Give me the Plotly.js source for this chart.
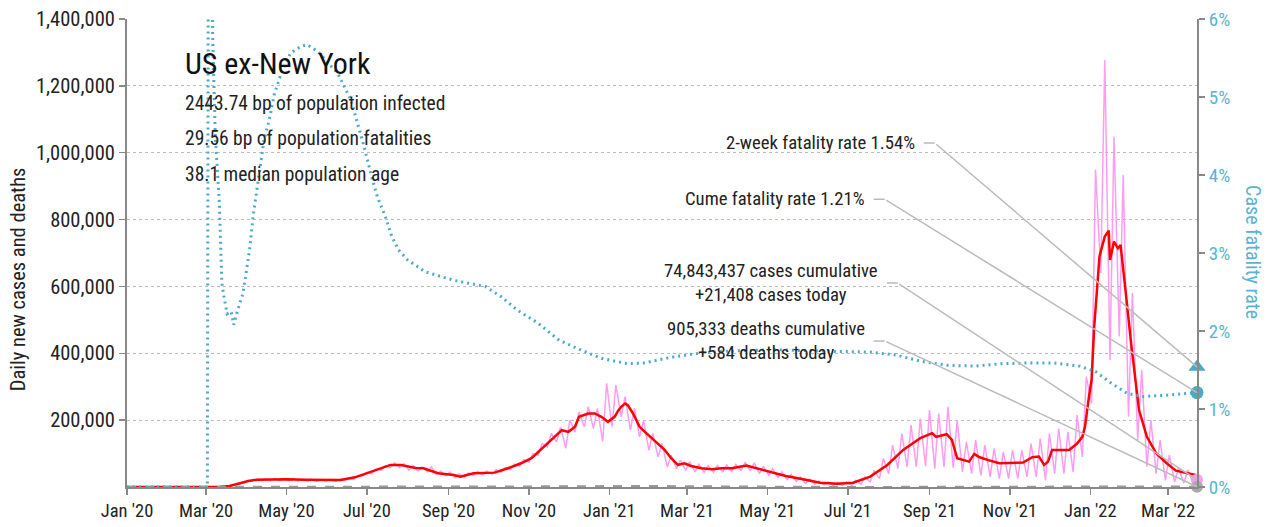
<!DOCTYPE html>
<html><head><meta charset="utf-8">
<script src="https://cdn.plot.ly/plotly-3.0.1.min.js"></script>
<style>html,body{margin:0;padding:0;background:#fff}#chart{width:1270px;height:527px}</style>
</head><body><div id="chart"></div>
<script>
// ---------- DATA ----------
// Daily new cases: weekly low (Sunday) and high (Wednesday) readings, in thousands
const weekStart = '2020-01-05';
const pinkLo = [0,0,0,0,0,0,0,0,0.01,0.1,1.5,6,12,18,20,19,19,19,18,18,17,17,17,19,23,33,40,50,58,58,
  50,48,46,38,33,28,30,34,36,38,44,52,62,75,95,120,135,116,165,180,175,136,180,210,170,150,110,90,60,55,
  50,45,44,44,45,46,50,48,40,35,28,22,17,10,8,6,5,4,4,8,15,25,40,55,60,60,62,55,60,58,
  45,40,35,30,25,25,25,30,30,20,40,40,45,90,250,640,380,450,210,140,61,40,20,15,12,12];
const pinkHi = [0,0,0,0,0,0,0,0,0.03,0.3,3.5,10,17,23,25,25,25,25,24,23,22,22,23,25,32,44,54,64,72,70,
  64,60,60,48,45,40,42,46,48,52,58,68,82,100,130,160,180,200,225,240,235,310,305,270,235,200,160,130,95,80,
  75,68,64,64,66,68,74,72,62,55,46,38,30,24,18,15,14,15,20,30,50,85,125,160,185,205,230,220,240,200,
  135,140,125,115,105,110,110,130,145,160,175,165,215,330,950,1277,1048,933,580,350,200,140,96,57,51,21.408];

// 7-day average of new cases, in thousands
const avgDates = ['2020-01-01','2020-03-01','2020-03-12','2020-03-19','2020-03-26','2020-04-02','2020-04-09','2020-04-16','2020-05-01','2020-05-15',
  '2020-06-01','2020-06-11','2020-06-22','2020-07-02','2020-07-12','2020-07-19','2020-07-27','2020-08-07','2020-08-13','2020-08-24',
  '2020-09-05','2020-09-10','2020-09-20','2020-10-06','2020-10-16','2020-10-26','2020-11-03','2020-11-10','2020-11-18','2020-11-26',
  '2020-12-01','2020-12-06','2020-12-09','2020-12-16','2020-12-21','2020-12-26','2020-12-31','2021-01-05','2021-01-08','2021-01-10',
  '2021-01-13','2021-01-15','2021-01-19','2021-01-24','2021-01-28','2021-02-04','2021-02-12','2021-02-17','2021-02-22','2021-02-27',
  '2021-03-04','2021-03-12','2021-03-20','2021-03-27','2021-04-04','2021-04-15','2021-05-03','2021-05-15','2021-05-28','2021-06-10',
  '2021-06-23','2021-07-05','2021-07-18','2021-07-31','2021-08-12','2021-08-25','2021-09-03','2021-09-06','2021-09-14','2021-09-18',
  '2021-09-22','2021-10-01','2021-10-05','2021-10-09','2021-10-17','2021-10-24','2021-11-11','2021-11-18','2021-11-23','2021-11-27',
  '2021-11-30','2021-12-03','2021-12-16','2021-12-22','2021-12-26','2021-12-28','2021-12-31','2022-01-02','2022-01-04','2022-01-08',
  '2022-01-12','2022-01-15','2022-01-16','2022-01-19','2022-01-22','2022-01-24','2022-01-28','2022-02-01','2022-02-07','2022-02-13',
  '2022-02-20','2022-02-28','2022-03-07','2022-03-15','2022-03-23'];
const avgCases = [0,0.01,0.5,3,11,18,22,23,23,22,
  21,21,29,43,56,66,66,57,56,41,
  36,31,41,43,56,71,86,111,141,170,
  165,180,210,220,220,210,195,210,230,240,
  250,245,220,180,165,141,111,86,66,71,
  63,56,53,56,56,64,46,33,23,13,
  10,13,31,66,111,146,161,150,158,141,
  86,76,99,89,79,71,73,89,91,66,
  76,111,111,130,150,180,270,320,480,690,
  749,767,679,734,714,724,579,430,230,150,
  101,71,49,43,35];

// Daily deaths (7-day average), in thousands
const deathDates = ['2020-01-01','2020-03-01','2020-03-15','2020-04-01','2020-04-15','2020-05-01','2020-06-01','2020-07-01','2020-08-01','2020-09-01',
  '2020-10-01','2020-11-01','2020-12-01','2021-01-15','2021-02-15','2021-03-15','2021-04-15','2021-05-15','2021-06-15','2021-07-15',
  '2021-08-15','2021-09-15','2021-10-15','2021-11-15','2021-12-15','2022-01-15','2022-02-05','2022-03-01','2022-03-23'];
const deaths = [0,0,0.03,0.5,1.3,1.4,0.8,0.5,1.0,0.8,0.7,0.8,2.0,3.2,2.3,1.1,0.65,0.55,0.3,0.25,0.9,1.9,1.5,1.0,1.2,1.8,2.4,1.5,0.584];

// Cumulative case fatality rate, %
const cfrDates = ['2020-01-01','2020-03-02','2020-03-03','2020-03-05','2020-03-06','2020-03-08','2020-03-11','2020-03-13','2020-03-15','2020-03-17',
  '2020-03-20','2020-03-22','2020-03-25','2020-03-29','2020-03-31','2020-04-03','2020-04-06','2020-04-10','2020-04-14','2020-04-18',
  '2020-04-22','2020-04-27','2020-05-04','2020-05-12','2020-05-17','2020-05-25','2020-06-01','2020-06-09','2020-06-14','2020-06-19',
  '2020-06-24','2020-06-29','2020-07-04','2020-07-09','2020-07-15','2020-07-20','2020-07-25','2020-08-01','2020-08-09','2020-08-14',
  '2020-09-05','2020-09-29','2020-10-11','2020-10-23','2020-11-08','2020-11-24','2020-12-10','2020-12-26','2021-01-15','2021-01-27',
  '2021-02-16','2021-03-08','2021-03-28','2021-05-07','2021-06-16','2021-07-18','2021-08-07','2021-08-26','2021-09-15','2021-10-05',
  '2021-10-25','2021-11-14','2021-12-04','2021-12-24','2022-01-05','2022-01-17','2022-01-29','2022-02-10','2022-03-02','2022-03-23'];
const cfr = [0,0,10,10,5.8,4.5,3.68,2.61,2.4,2.22,
  2.25,2.08,2.27,2.48,2.7,3.04,3.51,3.98,4.45,4.71,
  5.05,5.3,5.56,5.65,5.67,5.58,5.45,5.3,5.13,4.96,
  4.66,4.36,4.02,3.72,3.47,3.21,3.04,2.91,2.82,2.76,
  2.65,2.57,2.44,2.27,2.1,1.88,1.76,1.65,1.58,1.59,
  1.66,1.71,1.74,1.76,1.74,1.73,1.69,1.61,1.56,1.55,
  1.58,1.59,1.59,1.55,1.48,1.33,1.2,1.16,1.18,1.21];

const lastDate = '2022-03-23';
const casesCumulative = '74,843,437';
const casesToday = 21408;
const deathsCumulative = '905,333';
const deathsToday = 584;
const cfr2wk = 1.54;
const cfrCum = 1.21;
const statLines = ['2443.74 bp of population infected','29.56 bp of population fatalities','38.1 median population age'];
const chartTitle = 'US ex-New York';
const xTickFormat = "%b '%y";

// ---------- BUILD ----------
function addDays(s, n) {
  const d = new Date(s + 'T00:00:00Z');
  d.setUTCDate(d.getUTCDate() + n);
  return d.toISOString().slice(0, 10);
}
const pinkX = ['2020-01-01'], pinkY = [0];
for (let i = 0; i < pinkLo.length; i++) {
  pinkX.push(addDays(weekStart, 7 * i)); pinkY.push(pinkLo[i] * 1000);
  pinkX.push(addDays(weekStart, 7 * i + 3)); pinkY.push(pinkHi[i] * 1000);
}
const K = v => v.map(a => a * 1000);

const FONT = "'Roboto Condensed', 'Liberation Sans Narrow', 'DejaVu Sans Condensed', 'Arial Narrow', sans-serif";
const TEAL = '#4BAAC6';
const TEAL_TXT = '#5BB3D0';
const PINK = '#FF9CF2';
const LEAD = '#BBBBBB';

const traces = [
  {x: pinkX, y: pinkY, mode: 'lines', line: {color: PINK, width: 1.5}, hoverinfo: 'skip'},
  {x: avgDates, y: K(avgCases), mode: 'lines', line: {color: '#FF0000', width: 2.5}, hoverinfo: 'skip'},
  {x: deathDates, y: K(deaths), mode: 'lines', line: {color: '#999999', width: 2, dash: 'dash'}, hoverinfo: 'skip'},
  {x: [lastDate], y: [casesToday], mode: 'markers', marker: {color: PINK, size: 12}, cliponaxis: false},
  {x: [lastDate], y: [deathsToday], mode: 'markers', marker: {color: '#AAAAAA', size: 12}, cliponaxis: false},
  {x: cfrDates, y: cfr, yaxis: 'y2', mode: 'lines', line: {color: TEAL, width: 3, dash: '2px,4px'}, hoverinfo: 'skip'},
  {x: [lastDate], y: [cfr2wk], yaxis: 'y2', mode: 'markers', marker: {color: TEAL, size: 15, symbol: 'triangle-up'}, cliponaxis: false},
  {x: [lastDate], y: [cfrCum], yaxis: 'y2', mode: 'markers', marker: {color: TEAL, size: 13}, cliponaxis: false}
];

function leader(textHtml, elbowX, elbowY, yref, headY) {
  return [
    {xref: 'x', yref: yref, x: elbowX, y: elbowY, text: textHtml, showarrow: true, ax: -18, ay: 0,
     axref: 'pixel', ayref: 'pixel', arrowhead: 0, arrowwidth: 1.5, arrowcolor: LEAD, startstandoff: 7, standoff: 0,
     xanchor: 'right', yanchor: 'middle', align: 'center', font: {size: 18.7, color: '#222'}},
    {xref: 'x', yref: yref, x: lastDate, y: headY, text: ' ', showarrow: true, axref: 'x', ayref: yref,
     ax: elbowX, ay: elbowY, arrowhead: 0, arrowwidth: 1.5, arrowcolor: LEAD, standoff: 0, font: {size: 1}}
  ];
}

const annotations = [
  {xref: 'paper', yref: 'paper', x: 0.0523, y: 0.904, xanchor: 'left', yanchor: 'middle', showarrow: false,
   text: chartTitle, font: {size: 30, color: '#111'}},
  ...statLines.map((t, i) => ({xref: 'paper', yref: 'paper', x: 0.0523, y: 0.8205 - i * 0.0769, xanchor: 'left', yanchor: 'middle',
   showarrow: false, text: t, font: {size: 19.5, color: '#222'}})),
  {xref: 'paper', yref: 'paper', x: -0.1019, y: 0.444, xanchor: 'center', yanchor: 'middle', textangle: -90, showarrow: false,
   text: 'Daily new cases and deaths', font: {size: 20.5, color: '#222'}},
  {xref: 'paper', yref: 'paper', x: 1.0523, y: 0.502, xanchor: 'center', yanchor: 'middle', textangle: 90, showarrow: false,
   text: 'Case fatality rate', font: {size: 20, color: TEAL_TXT}},
  ...leader('2-week fatality rate ' + cfr2wk.toFixed(2) + '%', '2021-09-05', 4.41, 'y2', cfr2wk),
  ...leader('Cume fatality rate ' + cfrCum.toFixed(2) + '%', '2021-07-29', 3.69, 'y2', cfrCum),
  ...leader(casesCumulative + ' cases cumulative<br>+' + casesToday.toLocaleString('en-US') + ' cases today', '2021-08-08', 610000, 'y', casesToday),
  ...leader(deathsCumulative + ' deaths cumulative<br>+' + deathsToday + ' deaths today', '2021-07-29', 437000, 'y', deathsToday)
];

const layout = {
  width: 1270, height: 527,
  margin: {l: 127, r: 73, t: 19, b: 40},
  paper_bgcolor: '#fff', plot_bgcolor: '#fff',
  showlegend: false, hovermode: false,
  font: {family: FONT, size: 18, color: '#222'},
  xaxis: {type: 'date', range: ['2020-01-01', lastDate], tickformat: xTickFormat, dtick: 'M2', tick0: '2020-01-01',
    showline: true, linecolor: '#888', linewidth: 2, ticks: 'outside', ticklen: 6, tickcolor: '#888', tickwidth: 1.5,
    showgrid: false, zeroline: false, tickfont: {size: 18.5, color: '#222'}},
  yaxis: {range: [0, 1400000], tickvals: [200000, 400000, 600000, 800000, 1000000, 1200000, 1400000], tickformat: ',',
    showline: true, linecolor: '#888', linewidth: 2, ticks: 'outside', ticklen: 6, tickcolor: '#888', tickwidth: 1.5,
    showgrid: true, gridcolor: '#BBBBBB', griddash: 'dot', gridwidth: 1, zeroline: false, tickfont: {size: 20.5, color: '#222'}},
  yaxis2: {overlaying: 'y', side: 'right', range: [0, 6], dtick: 1, ticksuffix: '%',
    showline: true, linecolor: '#888', linewidth: 2, ticks: 'outside', ticklen: 6, tickcolor: '#888', tickwidth: 1.5,
    showgrid: false, zeroline: false, tickfont: {size: 19, color: TEAL_TXT}},
  annotations: annotations
};

Plotly.newPlot('chart', traces, layout, {displayModeBar: false, staticPlot: true});
</script></body></html>
